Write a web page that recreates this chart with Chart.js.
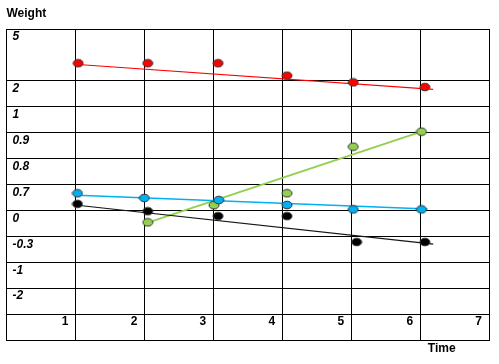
<!DOCTYPE html>
<html>
<head>
<meta charset="utf-8">
<script src="https://cdn.jsdelivr.net/npm/chart.js@4"></script>
<style>
  html, body { margin: 0; padding: 0; background: #fff; }
  #wrap { width: 499px; height: 364px; }
</style>
</head>
<body>
<div id="wrap"><canvas id="chart1"></canvas></div>
<script>
// axis values are in grid rows (one row = 1), the printed labels come from the arrays below
const xTickLabels = ['', '1', '2', '3', '4', '5', '6', '7'];
const yTickValues = [0, 1, 2, 3, 4, 5, 6, 7, 8, 9, 10, 12];
const yTickLabels = ['', '', '-2', '-1', '-0.3', '0', '0.7', '0.8', '0.9', '1', '2', '5'];

const redTime = [1.04, 2.05, 3.07, 4.07, 5.03, 6.07];
const redWeight = [10.68, 10.68, 10.68, 10.20, 9.94, 9.76];
const blueTime = [1.03, 2.00, 3.08, 4.07, 5.03, 6.02];
const blueWeight = [5.66, 5.48, 5.40, 5.21, 5.04, 5.04];
const blackTime = [1.03, 2.05, 3.07, 4.07, 5.08, 6.07];
const blackWeight = [5.25, 4.97, 4.78, 4.78, 3.78, 3.78];
const greenTime = [2.05, 3.01, 4.07, 5.03, 6.02];
const greenWeight = [4.54, 5.20, 5.66, 7.46, 8.04];

// trend lines: start and end
const redTrendTime = [1.04, 6.19];
const redTrendWeight = [10.63, 9.67];
const blueTrendTime = [1.03, 6.11];
const blueTrendWeight = [5.59, 5.05];
const blackTrendTime = [1.03, 6.19];
const blackTrendWeight = [5.20, 3.70];
const greenTrendTime = [2.05, 6.02];
const greenTrendWeight = [4.53, 8.04];

function toPoints(xs, ys) {
    return xs.map((x, i) => ({ x: x, y: ys[i] }));
}

// oval markers like the original
function oval(color) {
    const c = document.createElement('canvas');
    c.width = 12;
    c.height = 10;
    const g = c.getContext('2d');
    g.beginPath();
    g.ellipse(6, 5, 5, 3.8, 0, 0, Math.PI * 2);
    g.fillStyle = color;
    g.fill();
    g.lineWidth = 1;
    g.strokeStyle = '#333';
    g.stroke();
    return c;
}

function pointSet(xs, ys, color) {
    return {
        data: toPoints(xs, ys),
        showLine: false,
        pointStyle: oval(color),
        pointRadius: 5,
        order: 0
    };
}

function trendSet(xs, ys, color, width) {
    return {
        data: toPoints(xs, ys),
        showLine: true,
        borderColor: color,
        borderWidth: width,
        pointRadius: 0,
        order: 1
    };
}

const font = { family: '"Liberation Sans", Arial, sans-serif', size: 12, weight: 'bold' };

const ctx = document.getElementById('chart1').getContext('2d');
const chart = new Chart(ctx, {
    type: 'scatter',
    data: {
        datasets: [
            trendSet(redTrendTime, redTrendWeight, 'rgb(255, 0, 0)', 1.2),
            trendSet(blueTrendTime, blueTrendWeight, 'rgb(0, 176, 240)', 1.5),
            trendSet(blackTrendTime, blackTrendWeight, 'rgb(20, 20, 20)', 1.2),
            trendSet(greenTrendTime, greenTrendWeight, 'rgb(146, 208, 80)', 2),
            pointSet(redTime, redWeight, 'rgb(255, 0, 0)'),
            pointSet(blueTime, blueWeight, 'rgb(0, 176, 240)'),
            pointSet(blackTime, blackWeight, 'rgb(0, 0, 0)'),
            pointSet(greenTime, greenWeight, 'rgb(146, 208, 80)')
        ]
    },
    options: {
        responsive: true,
        maintainAspectRatio: false,
        animation: false,
        layout: {
            padding: { left: 6.5, right: 10, top: 0, bottom: 0 }
        },
        plugins: {
            legend: { display: false },
            tooltip: { enabled: false },
            title: {
                display: true,
                text: 'Weight',
                align: 'start',
                color: '#000',
                font: font,
                padding: { top: 6, bottom: 8.6 }
            }
        },
        scales: {
            x: {
                type: 'linear',
                min: 0,
                max: 7,
                afterFit: function(scale) {
                    scale.height = 24;
                    scale.paddingLeft = 0;
                    scale.paddingRight = 0;
                },
                grid: { color: '#000', lineWidth: 1, drawTicks: false },
                border: { display: true, color: '#000', width: 1 },
                ticks: {
                    stepSize: 1,
                    mirror: true,
                    align: 'end',
                    labelOffset: -7,
                    padding: 11.1,
                    color: '#000',
                    font: font,
                    maxRotation: 0,
                    callback: function(value, index) {
                        return xTickLabels[index];
                    }
                },
                title: {
                    display: true,
                    text: 'Time\u00a0\u00a0\u00a0\u00a0\u00a0\u00a0\u00a0\u00a0\u00a0\u00a0',
                    align: 'end',
                    color: '#000',
                    font: font,
                    padding: { top: 0, bottom: 7.8 }
                }
            },
            y: {
                type: 'linear',
                min: 0,
                max: 12,
                afterBuildTicks: function(scale) {
                    scale.ticks = yTickValues.map(v => ({ value: v }));
                },
                afterFit: function(scale) {
                    scale.width = 0;
                },
                grid: { color: '#000', lineWidth: 1, drawTicks: false },
                border: { display: true, color: '#000', width: 1 },
                ticks: {
                    mirror: true,
                    padding: 6,
                    labelOffset: 8,
                    color: '#000',
                    font: { family: font.family, size: 12, weight: 'bold', style: 'italic' },
                    callback: function(value, index) {
                        return yTickLabels[index];
                    }
                }
            }
        }
    }
});
</script>
</body>
</html>
